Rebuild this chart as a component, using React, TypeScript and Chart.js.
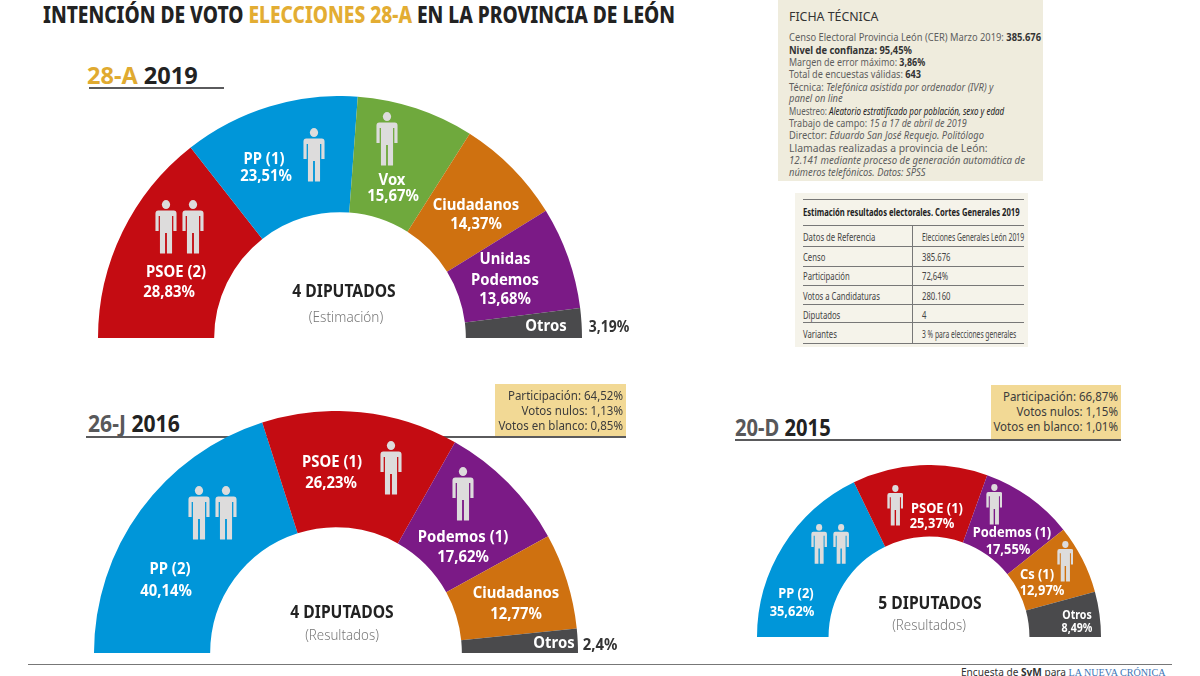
import React, { useEffect, useRef } from "react";
import { Chart, registerables } from "chart.js";
Chart.register(...registerables);

const FONT = "'Noto Sans', sans-serif";
const RED = "#c40c12", BLUE = "#0096d9", GREEN = "#6fa93d", ORANGE = "#cf7110", PURPLE = "#7b1a86", GRAY = "#4a4a4c";

// 28-A 2019
const parties2019 = ["PSOE (2)", "PP (1)", "Vox", "Ciudadanos", "Unidas Podemos", "Otros"];
const values2019 = [28.83, 23.51, 15.67, 14.37, 13.68, 3.19];
const colors2019 = [RED, BLUE, GREEN, ORANGE, PURPLE, GRAY];
// 26-J 2016
const parties2016 = ["PP (2)", "PSOE (1)", "Podemos (1)", "Ciudadanos", "Otros"];
const values2016 = [40.14, 26.23, 17.62, 12.77, 2.4];
const colors2016 = [BLUE, RED, PURPLE, ORANGE, GRAY];
// 20-D 2015
const parties2015 = ["PP (2)", "PSOE (1)", "Podemos (1)", "Cs (1)", "Otros"];
const values2015 = [35.62, 25.37, 17.55, 12.97, 8.49];
const colors2015 = [BLUE, RED, PURPLE, ORANGE, GRAY];

const turnout2016 = ["Participación: 64,52%", "Votos nulos: 1,13%", "Votos en blanco: 0,85%"];
const turnout2015 = ["Participación: 66,87%", "Votos nulos: 1,15%", "Votos en blanco: 1,01%"];

const tableRows = [
  ["Datos de Referencia", "Elecciones Generales León 2019"],
  ["Censo", "385.676"],
  ["Participación", "72,64%"],
  ["Votos a Candidaturas", "280.160"],
  ["Diputados", "4"],
  ["Variantes", "3 % para elecciones generales"],
];

const pct = (v: number) => String(v).replace(".", ",") + "%";

function T({ x, y, children, size = 16.5, weight = 700, color = "#fff", sx = 0.9, anchor = "c", font = FONT, style = {} }: any) {
  const tx = anchor === "c" ? "-50%" : anchor === "r" ? "-100%" : "0";
  const origin = anchor === "c" ? "center" : anchor === "r" ? "right" : "left";
  return (
    <div style={{ position: "absolute", left: x, top: y, whiteSpace: "pre", fontFamily: font, fontSize: size, fontWeight: weight, color, lineHeight: 1,
      transform: `translate(${tx}, -50%) scaleX(${sx})`, transformOrigin: `${origin} center`, ...style }}>{children}</div>
  );
}

function Person({ x, top, h }: { x: number; top: number; h: number }) {
  const w = (h * 22) / 54;
  return (
    <svg viewBox="0 0 24 54" preserveAspectRatio="none" width={w} height={h} style={{ position: "absolute", left: x - w / 2, top }}>
      <circle cx="12" cy="4.6" r="4.5" fill="#dddcdc" />
      <path d="M3.5 10.5 H20.5 Q23.5 10.5 23.5 13.5 V31 H20 V16 H18.6 V53.5 H13 V33 H11 V53.5 H5.4 V16 H4 V31 H0.5 V13.5 Q0.5 10.5 3.5 10.5 Z" fill="#dddcdc" />
    </svg>
  );
}

// The printed arcs leave the votes nobody is listed for inside the grey end slice,
// so each half circle always spans 100 %.
function Arc({ cx, baseY, R, cut, labels, values, colors }: any) {
  const ref = useRef<HTMLCanvasElement>(null);
  useEffect(() => {
    const rest = Math.max(0, 100 - values.reduce((a: number, b: number) => a + b, 0));
    const data = values.map((v: number, i: number) => (i === values.length - 1 ? v + rest : v));
    const chart = new Chart(ref.current!, {
      type: "doughnut",
      data: { labels, datasets: [{ data, backgroundColor: colors, borderWidth: 0 }] },
      options: {
        animation: false, responsive: false, rotation: -90, circumference: 180, cutout: cut,
        layout: { padding: 0 },
        plugins: { legend: { display: false }, tooltip: { enabled: false } },
      },
    });
    return () => chart.destroy();
  }, []);
  return <canvas ref={ref} width={R * 2} height={R} style={{ position: "absolute", left: cx - R, top: baseY - R, width: R * 2, height: R }} />;
}

function Head({ x, y, a, b, gold, width, left, ruleY, sx }: any) {
  return (
    <>
      <div style={{ position: "absolute", left, top: ruleY, width, height: 2, background: "#5a5a5c" }} />
      <T x={x} y={y} size={24} sx={sx} anchor="l" color="#222">
        <span style={{ color: gold }}>{a}</span> {b}
      </T>
    </>
  );
}

function Box({ left, top, w, h, lines }: any) {
  return (
    <div style={{ position: "absolute", left, top, width: w, height: h, background: "#f2d995" }}>
      {lines.map((l: string, i: number) => (
        <T key={l} x={w - 3} y={12 + i * 15} size={12} weight={400} color="#3c3c3c" anchor="r" sx={0.96}>{l}</T>
      ))}
    </div>
  );
}

const FL = { size: 10.5, weight: 400, color: "#5e5e5e", anchor: "l", sx: 0.89 };
const rightSx = [0.62, 0.7, 0.7, 0.7, 0.7, 0.61];

export default function App() {
  return (
    <div style={{ position: "fixed", left: 0, top: 0, width: 1200, height: 676, background: "#fff", overflow: "hidden" }}>
      <T x={43} y={15} size={23.5} weight={800} sx={0.815} anchor="l" color="#222">
        INTENCIÓN DE VOTO <span style={{ color: "#e3ad33" }}>ELECCIONES 28-A</span> EN LA PROVINCIA DE LEÓN
      </T>

      {/* 28-A 2019 */}
      <Head x={87} y={75} a="28-A" b="2019" gold="#e0aa30" left={89} width={135} ruleY={87} sx={0.98} />
      <Arc cx={340} baseY={338} R={242} cut="52%" labels={parties2019} values={values2019} colors={colors2019} />
      <Person x={166} top={200} h={54} /><Person x={193} top={200} h={54} />
      <Person x={314} top={128} h={54} /><Person x={387} top={112} h={54} />
      <T x={176} y={271}>{parties2019[0]}</T><T x={169} y={291}>{pct(values2019[0])}</T>
      <T x={264} y={158}>{parties2019[1]}</T><T x={266} y={175}>{pct(values2019[1])}</T>
      <T x={392} y={179}>{parties2019[2]}</T><T x={393} y={195}>{pct(values2019[2])}</T>
      <T x={476} y={204}>{parties2019[3]}</T><T x={476} y={223}>{pct(values2019[3])}</T>
      <T x={505} y={258}>Unidas</T><T x={505} y={279}>Podemos</T><T x={505} y={298}>{pct(values2019[4])}</T>
      <T x={546} y={325}>{parties2019[5]}</T>
      <T x={609} y={327} color="#333" size={15.5}>{pct(values2019[5])}</T>
      <T x={344} y={290} size={17} sx={0.92} color="#222">4 DIPUTADOS</T>
      <T x={346} y={317} size={14} weight={300} color="#777" sx={0.97}>(Estimación)</T>

      {/* Ficha técnica */}
      <div style={{ position: "absolute", left: 778, top: 0, width: 265, height: 181, background: "#efecdd" }} />
      <T x={789} y={16} size={13} weight={400} color="#333" anchor="l" sx={0.95}>FICHA TÉCNICA</T>
      <T x={789} y={37} {...FL}>Censo Electoral Provincia León (CER) Marzo 2019: <b style={{ color: "#333" }}>385.676</b></T>
      <T x={789} y={50} {...FL} color="#333"><b>Nivel de confianza: 95,45%</b></T>
      <T x={789} y={62} {...FL} sx={0.85}>Margen de error máximo: <b style={{ color: "#333" }}>3,86%</b></T>
      <T x={789} y={74} {...FL} sx={0.87}>Total de encuestas válidas: <b style={{ color: "#333" }}>643</b></T>
      <T x={789} y={87} {...FL}>Técnica: <i>Telefónica asistida por ordenador (IVR) y</i></T>
      <T x={789} y={98} {...FL}><i>panel on line</i></T>
      <T x={789} y={111} {...FL} sx={0.76}>Muestreo: <i style={{ color: "#222" }}>Aleatorio estratificado por población, sexo y edad</i></T>
      <T x={789} y={123} {...FL} sx={0.86}>Trabajo de campo: <i>15 a 17 de abril de 2019</i></T>
      <T x={789} y={135} {...FL}>Director: <i>Eduardo San José Requejo. Politólogo</i></T>
      <T x={789} y={148} {...FL} sx={0.99}>Llamadas realizadas a provincia de León:</T>
      <T x={789} y={160} {...FL} sx={0.92}><i>12.141 mediante proceso de generación automática de</i></T>
      <T x={789} y={172} {...FL}><i>números telefónicos. Datos: SPSS</i></T>

      {/* Tabla */}
      <div style={{ position: "absolute", left: 795, top: 193, width: 233, height: 154, background: "#f5f3ea" }} />
      <div style={{ position: "absolute", left: 803, top: 199, width: 221, height: 1, background: "#777" }} />
      <T x={803} y={211} size={11} color="#222" anchor="l" sx={0.695}>Estimación resultados electorales. Cortes Generales 2019</T>
      {[225, 246, 266, 285, 304, 322, 343].map((y) => (
        <div key={y} style={{ position: "absolute", left: 803, top: y, width: 221, height: 1, background: "#777" }} />
      ))}
      <div style={{ position: "absolute", left: 912, top: 225, width: 1, height: 118, background: "#777" }} />
      {tableRows.map((r, i) => {
        const y = [236, 256, 275, 295, 314, 333][i];
        return (
          <React.Fragment key={r[0]}>
            <T x={803} y={y} size={11} weight={400} color="#444" anchor="l" sx={0.7}>{r[0]}</T>
            <T x={922} y={y} size={11} weight={400} color="#444" anchor="l" sx={rightSx[i]}>{r[1]}</T>
          </React.Fragment>
        );
      })}

      {/* 26-J 2016 */}
      <Head x={88} y={423} a="26-J" b="2016" gold="#58585a" left={86} width={540} ruleY={436} sx={0.88} />
      <Box left={495} top={384} w={131} h={52} lines={turnout2016} />
      <Arc cx={336} baseY={653} R={242} cut="52%" labels={parties2016} values={values2016} colors={colors2016} />
      <Person x={199} top={486} h={54} /><Person x={226} top={486} h={54} />
      <Person x={391} top={441} h={54} /><Person x={463} top={467} h={54} />
      <T x={170} y={568}>{parties2016[0]}</T><T x={166} y={590}>{pct(values2016[0])}</T>
      <T x={332} y={461}>{parties2016[1]}</T><T x={331} y={482}>{pct(values2016[1])}</T>
      <T x={463} y={536}>{parties2016[2]}</T><T x={463} y={556}>{pct(values2016[2])}</T>
      <T x={516} y={592}>{parties2016[3]}</T><T x={516} y={613}>{pct(values2016[3])}</T>
      <T x={554} y={642}>{parties2016[4]}</T>
      <T x={600} y={644} color="#333">{pct(values2016[4])}</T>
      <T x={342} y={611} size={17} sx={0.92} color="#222">4 DIPUTADOS</T>
      <T x={342} y={635} size={14} weight={300} color="#777" sx={0.95}>(Resultados)</T>

      {/* 20-D 2015 */}
      <Head x={735} y={427} a="20-D" b="2015" gold="#58585a" left={735} width={386} ruleY={439} sx={0.84} />
      <Box left={991} top={385} w={130} h={54} lines={turnout2015} />
      <Arc cx={929} baseY={637} R={172} cut="58.4%" labels={parties2015} values={values2015} colors={colors2015} />
      <Person x={819} top={524} h={40} /><Person x={841} top={524} h={40} />
      <Person x={895} top={485} h={41} /><Person x={994} top={484} h={41} /><Person x={1065} top={541} h={41} />
      <T x={796} y={593} size={14.3}>{parties2015[0]}</T><T x={792} y={611} size={14.3}>{pct(values2015[0])}</T>
      <T x={937} y={508} size={14.3}>{parties2015[1]}</T><T x={932} y={523} size={14.3}>{pct(values2015[1])}</T>
      <T x={1012} y={532} size={14.3}>{parties2015[2]}</T><T x={1008} y={549} size={14.3}>{pct(values2015[2])}</T>
      <T x={1037} y={574} size={14.3}>{parties2015[3]}</T><T x={1042} y={590} size={14.3}>{pct(values2015[3])}</T>
      <T x={1077} y={615} size={11.8}>{parties2015[4]}</T><T x={1077} y={628} size={11.8}>{pct(values2015[4])}</T>
      <T x={930} y={602} size={17} sx={0.92} color="#222">5 DIPUTADOS</T>
      <T x={929} y={625} size={14} weight={300} color="#777" sx={0.95}>(Resultados)</T>

      {/* Pie */}
      <div style={{ position: "absolute", left: 28, top: 664, width: 1144, height: 1, background: "#777" }} />
      <T x={961} y={672} size={10} weight={400} color="#333" anchor="l" sx={1.01}>
        Encuesta de <b>SvM</b> para <span style={{ fontFamily: "'Liberation Serif', serif", color: "#3d74b5" }}>LA NUEVA CRÓNICA</span>
      </T>
    </div>
  );
}
